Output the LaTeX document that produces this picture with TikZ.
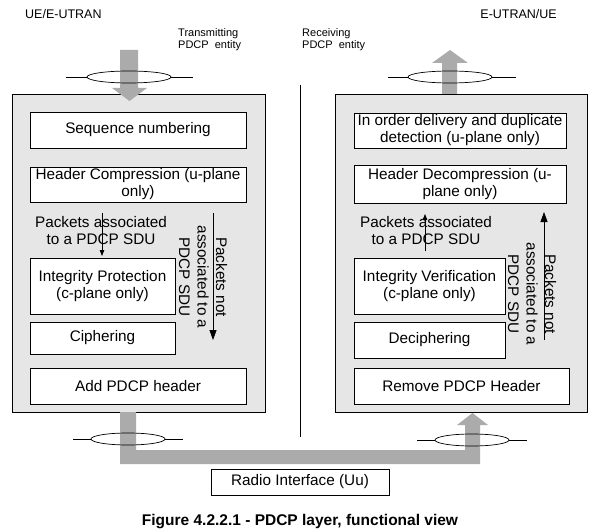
\documentclass[tikz,border=0pt]{standalone}
\usepackage{fontspec}
\setmainfont{Liberation Sans}
\usetikzlibrary{arrows.meta}
\definecolor{boxgray}{HTML}{E6E6E6}
\definecolor{arrowgray}{HTML}{ABABAB}
\tikzset{
  panel/.style={draw=black, fill=boxgray, line width=0.9pt},
  fbox/.style={draw=black, fill=white, line width=0.8pt, inner sep=0pt, align=center,
    font=\fontsize{15.3}{17}\selectfont},
  lbl/.style={inner sep=0pt, align=center, font=\fontsize{15.3}{17}\selectfont},
  rotlbl/.style={inner sep=0pt, align=center, rotate=-90, font=\fontsize{15.3}{18.5}\selectfont},
  small/.style={inner sep=0pt, align=left, font=\fontsize{11}{12}\selectfont},
  side/.style={inner sep=0pt, font=\fontsize{12.5}{14}\selectfont},
  bigarrow/.style={fill=arrowgray, draw=none},
  ring/.style={draw=black, line width=0.7pt},
  thinarrow/.style={line width=0.8pt, -{Triangle[length=6pt,width=4.5pt]}},
  longarrow/.style={line width=0.8pt, -{Triangle[length=10pt,width=7pt]}}
}
\begin{document}
\begin{tikzpicture}[x=1pt, y=-1pt]
\useasboundingbox (0,0) rectangle (597,532);
\fill[white] (0,0) rectangle (597,532);

% panels
\draw[panel] (12,94) rectangle (265,412);
\draw[panel] (335,94) rectangle (587,412);

% centre divider
\coordinate (divtop) at (300.5,85);
\coordinate (divbot) at (300.5,437);
\draw[line width=0.8pt] (divtop) -- (divbot);

% top-left down arrow
\fill[bigarrow] (120,50) -- (138,50) -- (138,88) -- (147,88) -- (129.5,101) -- (112,88) -- (120,88) -- cycle;
% top-right up arrow
\fill[bigarrow] (442,94) -- (442,63) -- (432,63) -- (450,50) -- (468,63) -- (457,63) -- (457,94) -- cycle;
% bottom path
\fill[bigarrow] (120,412) -- (136,412) -- (136,450) -- (465,450) -- (465,425) -- (457,425) -- (472.5,413)
  -- (488,425) -- (480,425) -- (480,464) -- (120,464) -- cycle;

% rings
\draw[ring] (129,77) ellipse [x radius=42, y radius=6];
\draw[ring] (66,77) -- (87,77) (171,77) -- (193,77);
\draw[ring] (450,77) ellipse [x radius=42, y radius=6];
\draw[ring] (388,77) -- (408,77) (492,77) -- (516,77);
\draw[ring] (128,439) ellipse [x radius=37, y radius=6];
\draw[ring] (73,439) -- (91,439) (165,439) -- (183,439);
\draw[ring] (472,440) ellipse [x radius=37, y radius=6];
\draw[ring] (417,440) -- (435,440) (509,440) -- (527,440);

% left boxes
\node[fbox, minimum width=216pt, minimum height=36pt] (seq) at (138,130) {Sequence numbering};
\node[fbox, minimum width=216pt, minimum height=35pt] (hc) at (138,184.5) {Header Compression (u-plane\\only)};
\node[fbox, minimum width=145pt, minimum height=56pt] (ip) at (102.5,286) {Integrity Protection\\(c-plane only)};
\node[fbox, minimum width=145pt, minimum height=32pt] (ciph) at (102.5,338) {Ciphering};
\node[fbox, minimum width=216pt, minimum height=36pt] (add) at (138,386) {Add PDCP header};

% right boxes
\node[fbox, minimum width=212pt, minimum height=35pt] (iod) at (460,130.5) {In order delivery and duplicate\\detection (u-plane only)};
\node[fbox, minimum width=212pt, minimum height=38pt] (hd) at (460,184) {Header Decompression (u-\\plane only)};
\node[fbox, minimum width=151pt, minimum height=56pt] (iv) at (429.5,286) {Integrity Verification\\(c-plane only)};
\node[fbox, minimum width=151pt, minimum height=36pt] (deciph) at (429.5,340) {Deciphering};
\node[fbox, minimum width=215pt, minimum height=36pt] (rem) at (461.5,386) {Remove PDCP Header};

% radio interface
\node[fbox, minimum width=178pt, minimum height=26pt] (radio) at (300,482) {Radio Interface (Uu)};

% packet labels
\node[lbl] (pal) at (101,231) {Packets associated\\to a PDCP SDU};
\node[lbl] (par) at (426,231) {Packets associated\\to a PDCP SDU};
\node[rotlbl] (pnl) at (203,277) {Packets not\\associated to a\\PDCP SDU};
\node[rotlbl] (pnr) at (532,294) {Packets not\\associated to a\\PDCP SDU};

% packet arrows
\coordinate (al1) at (102,213);
\coordinate (al2) at (102,256);
\draw[thinarrow] (al1) -- (al2);
\coordinate (ar1) at (425,251);
\coordinate (ar2) at (425,214);
\draw[thinarrow] (ar1) -- (ar2);
\coordinate (nl1) at (213,213);
\coordinate (nl2) at (213,340);
\draw[longarrow] (nl1) -- (nl2);
\coordinate (nr1) at (544,340);
\coordinate (nr2) at (544,212);
\draw[longarrow] (nr1) -- (nr2);

% headings
\node[side, anchor=west] (ueleft) at (25,14) {UE/E-UTRAN};
\node[side, anchor=east] (ueright) at (557,14) {E-UTRAN/UE};
\node[small, anchor=west] (tx) at (178,40) {Transmitting\\PDCP~~entity};
\node[small, anchor=west] (rx) at (302,40) {Receiving\\PDCP~~entity};

% caption
\node[inner sep=0pt, font=\bfseries\fontsize{15.5}{18}\selectfont] (cap) at (300,522) {Figure 4.2.2.1 - PDCP layer, functional view};
\end{tikzpicture}
\end{document}
